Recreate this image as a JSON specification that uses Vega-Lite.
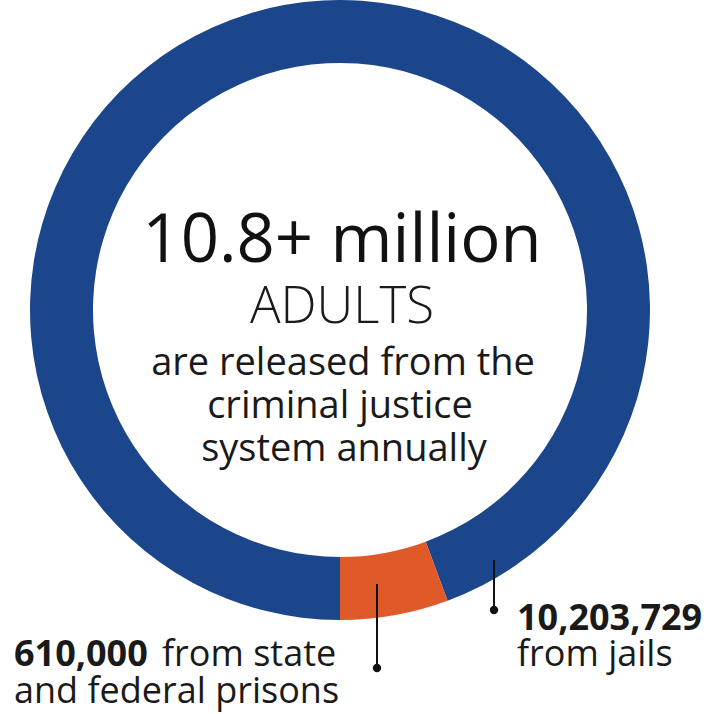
{
  "$schema": "https://vega.github.io/schema/vega-lite/v6.json",
  "width": 680,
  "height": 620,
  "autosize": {"type": "none"},
  "padding": {"left": 0, "top": 0, "right": 47, "bottom": 94},
  "background": "white",
  "config": {"view": {"stroke": null}},
  "datasets": {
    "segments": [
      {"source": "jails", "released": 10203729, "rank": 1},
      {"source": "state and federal prisons", "released": 610000, "rank": 2}
    ],
    "center": [
      {"line": "10.8+ million", "style": "headline", "px": 342, "py": 262},
      {"line": "ADULTS", "style": "caps", "px": 342, "py": 323},
      {"line": "are released from the", "style": "body", "px": 343, "py": 375},
      {"line": "criminal justice", "style": "body", "px": 340, "py": 418},
      {"line": "system annually", "style": "body", "px": 344, "py": 461}
    ],
    "labels": [
      {"line": "610,000", "bold": true, "px": 14, "py": 666},
      {"line": "from state", "bold": false, "px": 162, "py": 666},
      {"line": "and federal prisons", "bold": false, "px": 14, "py": 703},
      {"line": "10,203,729", "bold": true, "px": 517, "py": 630},
      {"line": "from jails", "bold": false, "px": 517, "py": 666}
    ],
    "leaders": [
      {"source": "state and federal prisons", "px": 377, "top": 584, "bottom": 668},
      {"source": "jails", "px": 494, "top": 560, "bottom": 610}
    ]
  },
  "layer": [
    {
      "data": {"name": "segments"},
      "mark": {"type": "arc", "outerRadius": 310, "innerRadius": 247, "stroke": null},
      "encoding": {
        "theta": {"field": "released", "type": "quantitative", "stack": true, "scale": {"range": [3.14159265, 9.42477796]}},
        "order": {"field": "rank", "type": "quantitative"},
        "color": {"field": "source", "type": "nominal", "legend": null,
          "scale": {"domain": ["jails", "state and federal prisons"], "range": ["#1c468c", "#e05a29"]}}
      }
    },
    {
      "data": {"name": "center"},
      "transform": [{"filter": "datum.style === 'headline'"}],
      "mark": {"type": "text", "font": "Open Sans", "fontSize": 67, "align": "center", "baseline": "alphabetic", "color": "#111111"},
      "encoding": {
        "x": {"field": "px", "type": "quantitative", "scale": {"domain": [0, 680], "nice": false, "zero": false}, "axis": null},
        "y": {"field": "py", "type": "quantitative", "scale": {"domain": [620, 0], "nice": false, "zero": false}, "axis": null},
        "text": {"field": "line"}
      }
    },
    {
      "data": {"name": "center"},
      "transform": [{"filter": "datum.style === 'caps'"}],
      "mark": {"type": "text", "font": "Open Sans", "fontSize": 51, "fontWeight": 300, "align": "center", "baseline": "alphabetic", "color": "#1a1a1a"},
      "encoding": {
        "x": {"field": "px", "type": "quantitative"},
        "y": {"field": "py", "type": "quantitative"},
        "text": {"field": "line"}
      }
    },
    {
      "data": {"name": "center"},
      "transform": [{"filter": "datum.style === 'body'"}],
      "mark": {"type": "text", "font": "Open Sans", "fontSize": 38, "align": "center", "baseline": "alphabetic", "color": "#1a1a1a"},
      "encoding": {
        "x": {"field": "px", "type": "quantitative"},
        "y": {"field": "py", "type": "quantitative"},
        "text": {"field": "line"}
      }
    },
    {
      "data": {"name": "leaders"},
      "mark": {"type": "rule", "color": "#111111", "strokeWidth": 2},
      "encoding": {
        "x": {"field": "px", "type": "quantitative"},
        "y": {"field": "top", "type": "quantitative"},
        "y2": {"field": "bottom"}
      }
    },
    {
      "data": {"name": "leaders"},
      "mark": {"type": "point", "filled": true, "color": "#111111", "size": 70, "opacity": 1},
      "encoding": {
        "x": {"field": "px", "type": "quantitative"},
        "y": {"field": "bottom", "type": "quantitative"}
      }
    },
    {
      "data": {"name": "labels"},
      "transform": [{"filter": "datum.bold"}],
      "mark": {"type": "text", "font": "Open Sans", "fontSize": 36, "fontWeight": "bold", "align": "left", "baseline": "alphabetic", "color": "#1a1a1a"},
      "encoding": {
        "x": {"field": "px", "type": "quantitative"},
        "y": {"field": "py", "type": "quantitative"},
        "text": {"field": "line"}
      }
    },
    {
      "data": {"name": "labels"},
      "transform": [{"filter": "!datum.bold"}],
      "mark": {"type": "text", "font": "Open Sans", "fontSize": 36, "align": "left", "baseline": "alphabetic", "color": "#1a1a1a"},
      "encoding": {
        "x": {"field": "px", "type": "quantitative"},
        "y": {"field": "py", "type": "quantitative"},
        "text": {"field": "line"}
      }
    }
  ]
}
